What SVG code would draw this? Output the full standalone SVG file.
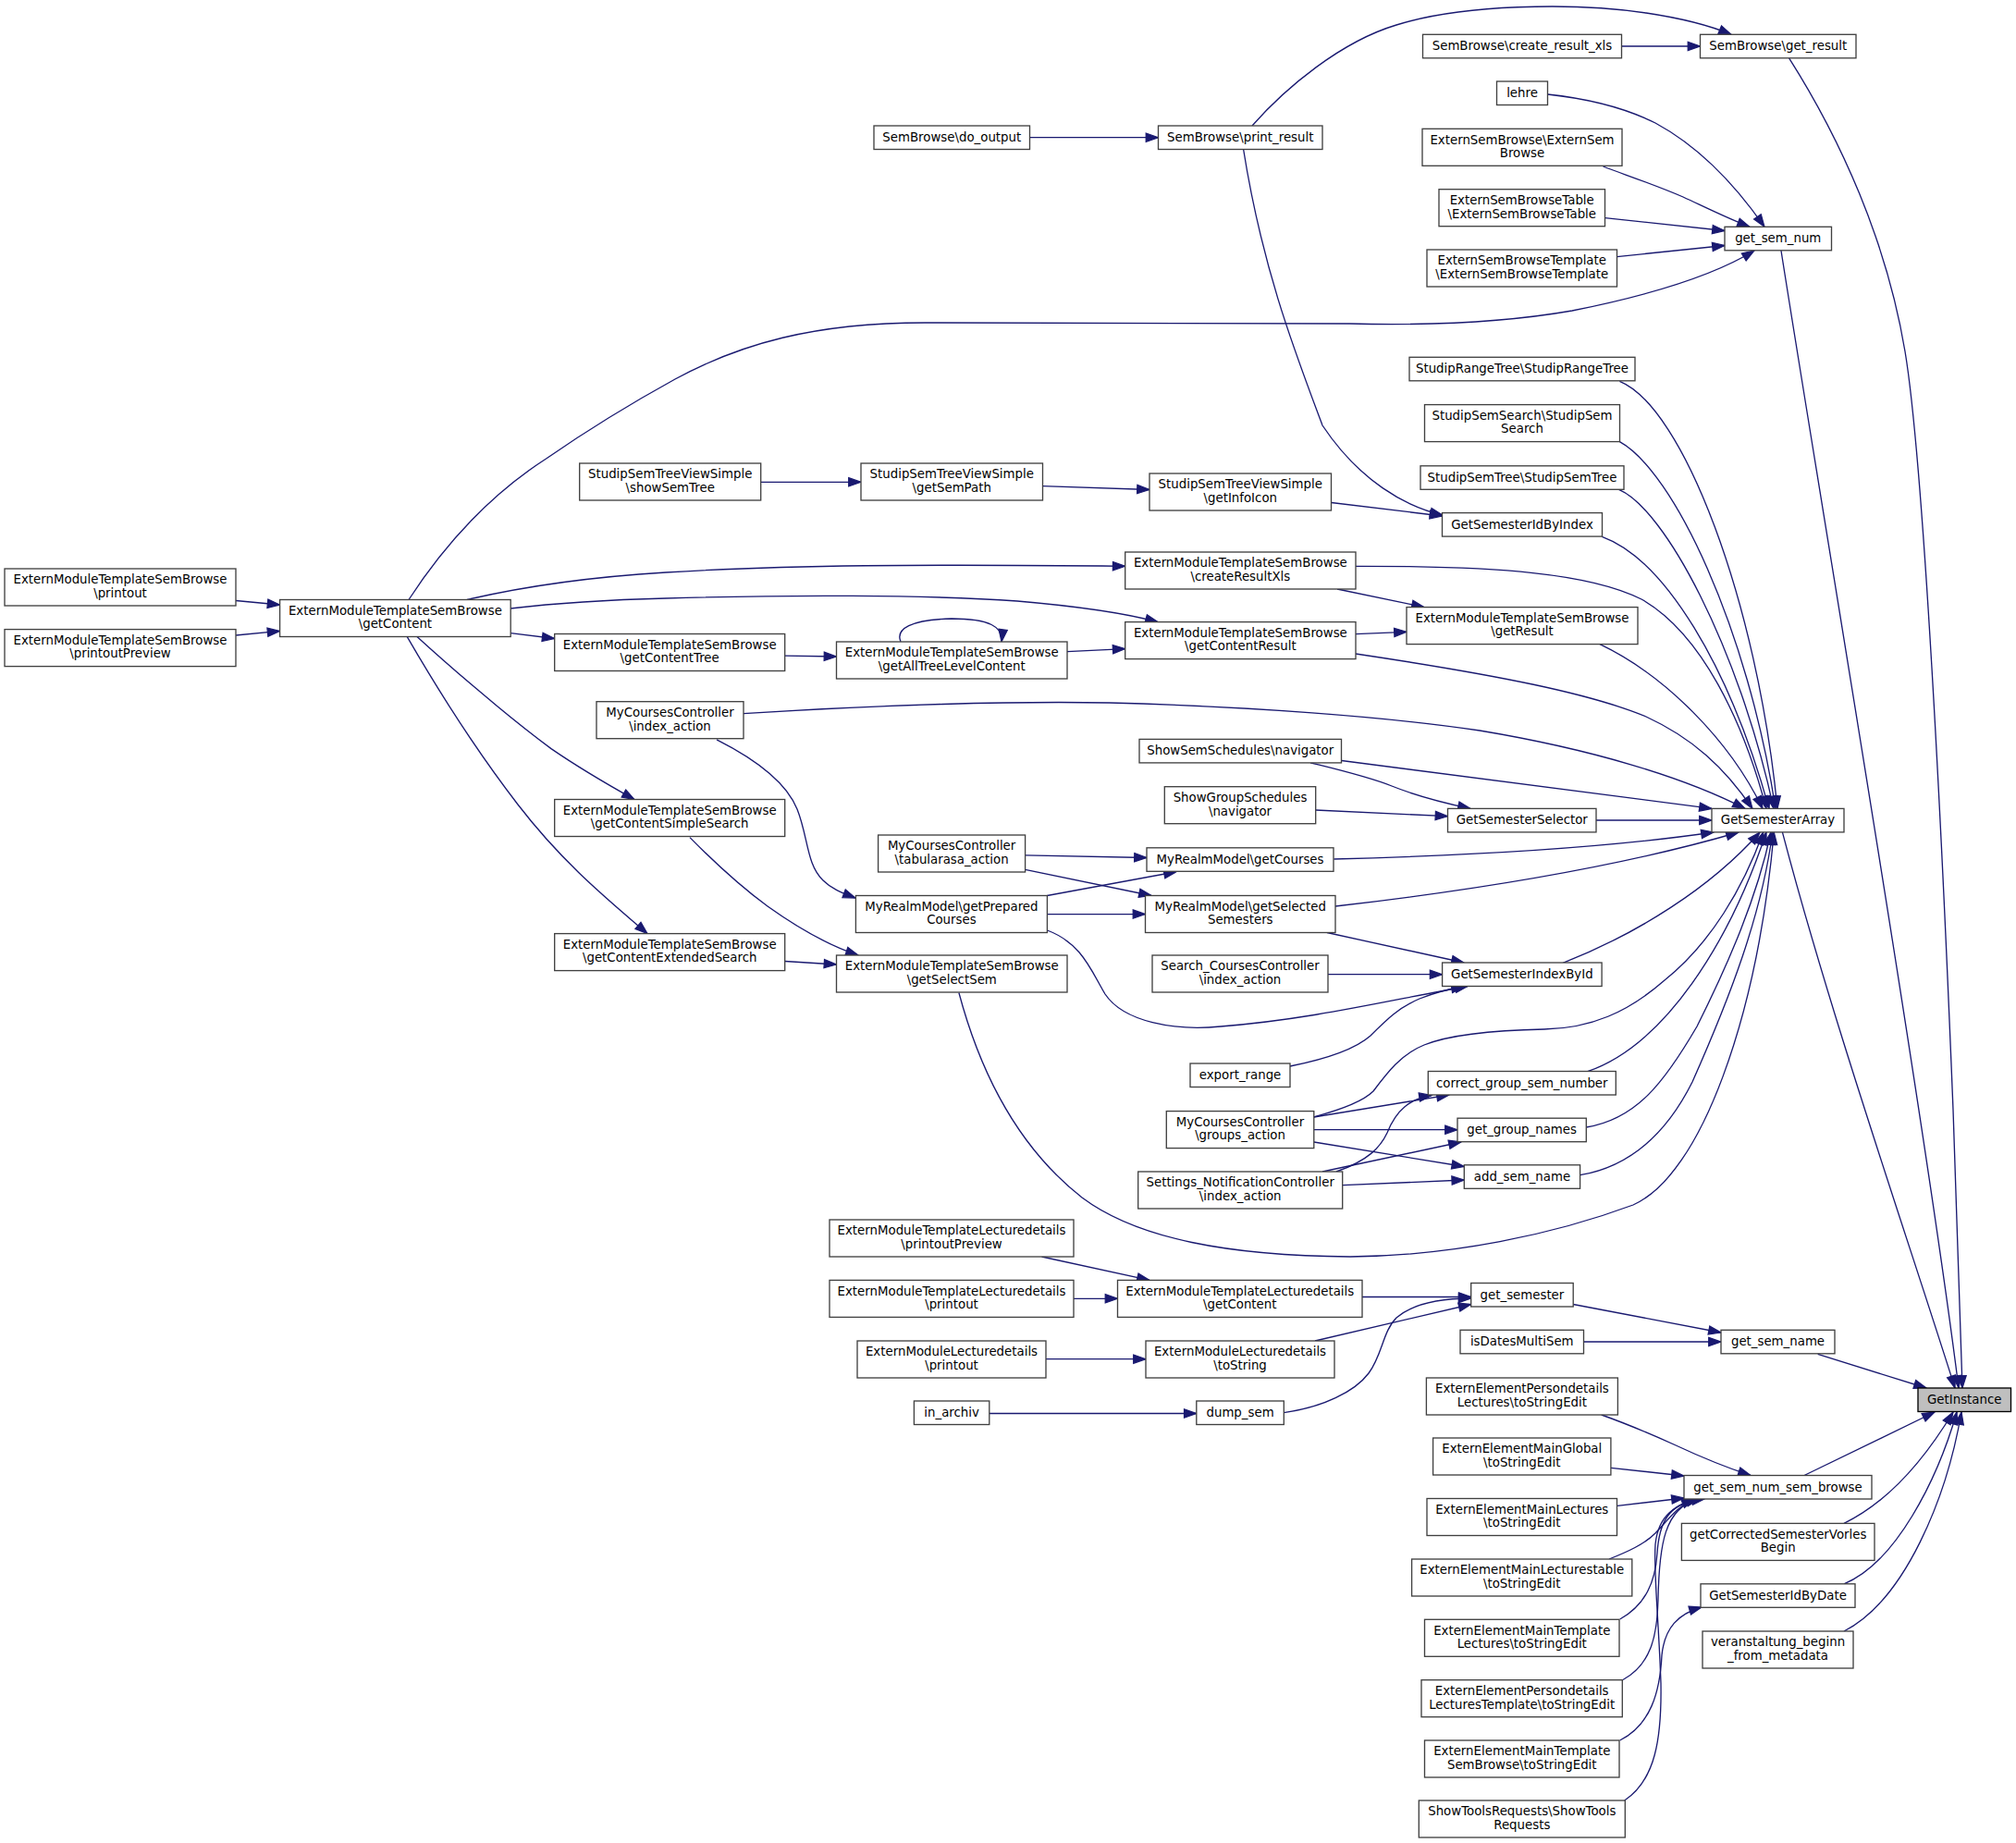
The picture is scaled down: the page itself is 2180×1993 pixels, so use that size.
<svg xmlns="http://www.w3.org/2000/svg" width="2180" height="1993" viewBox="0 0 2180 1993">
<style>
.n rect{fill:#fff;stroke:#404040;stroke-width:1.33}
.n.f rect{fill:#bfbfbf;stroke:#000}
text{font-family:"DejaVu Sans","Liberation Sans",sans-serif;font-size:13.33px;text-anchor:middle;fill:#000}
.e path{fill:none;stroke:#191970;stroke-width:1.33;marker-end:url(#a)}
</style>
<defs>
<marker id="a" markerUnits="userSpaceOnUse" markerWidth="16" markerHeight="12" refX="13.3" refY="4.67" orient="auto" overflow="visible"><path d="M0,0 L13.3,4.67 L0,9.33 z" fill="#191970" stroke="#191970" stroke-width="1.2"/></marker>
</defs>
<rect width="2180" height="1993" fill="#fff"/>
<g id="edges" class="e">
<path d="M1113.5,148.7 L1252.5,148.7"/>
<path d="M1753.5,50 L1838.5,50"/>
<path d="M1354,136 C1390,95 1450,45 1510,27 C1580,5 1700,2 1780,14 C1820,20 1850,28 1872,37.3"/>
<path d="M1344.6,161.5 C1365,290 1400,380 1430,460 C1470,520 1520,548 1560,557"/>
<path d="M1439.6,543.5 L1559.5,558"/>
<path d="M822.6,521.3 L931,521.3"/>
<path d="M1127.5,525.6 L1243,529.5"/>
<path d="M1673.5,102 C1720,107 1760,118 1790,133 C1840,160 1880,205 1908,245.3"/>
<path d="M1733.5,180 C1760,190 1790,200 1820,213 C1850,227 1870,237 1892,245.3"/>
<path d="M1735.6,235.6 L1865,249.5"/>
<path d="M1748.5,277.6 L1865,265.5"/>
<path d="M442,648.5 C480,590 530,535 591,495.7 C650,455 690,432 730,410 C800,372 880,349 1000,349 L1460,350 C1540,352 1620,350 1700,336 C1780,320 1850,300 1897,271"/>
<path d="M1934.6,62.8 C1990,150 2040,260 2060,380 C2080,500 2100,900 2112,1200 L2122,1501"/>
<path d="M1926,271 C1965,520 2080,1200 2118,1501"/>
<path d="M1927.4,899.8 C1980,1100 2060,1330 2114,1501"/>
<path d="M1965.7,1464.4 L2083,1501"/>
<path d="M1951,1595.5 L2092,1527"/>
<path d="M1994,1647.4 C2040,1625 2080,1580 2112,1527"/>
<path d="M1994,1712.8 C2050,1690 2095,1600 2116,1527"/>
<path d="M1994,1764 C2060,1730 2105,1620 2121,1527"/>
<path d="M1732.3,580.3 C1800,605 1870,720 1913,874.4"/>
<path d="M1750.5,529.4 C1800,550 1880,700 1918,874.4"/>
<path d="M1751.4,477.7 C1810,510 1890,680 1920,874.4"/>
<path d="M1751.4,412.3 C1820,440 1900,650 1922,874.4"/>
<path d="M1466,612.3 C1620,612 1720,620 1775,648 C1840,685 1885,780 1910,874.4"/>
<path d="M1446,637 L1540,656.6"/>
<path d="M1466,685.7 L1521,683.3"/>
<path d="M1730,696.7 C1800,730 1870,800 1906,874.4"/>
<path d="M1466,707 C1620,730 1720,750 1780,775 C1830,798 1865,830 1895,874.4"/>
<path d="M804,771.7 C950,762 1100,758 1200,760 C1350,764 1500,775 1600,790 C1720,810 1820,840 1887,874.4"/>
<path d="M1450.7,822.5 L1851,874.4"/>
<path d="M1417,824.8 C1450,833 1480,840 1505,850 C1535,862 1560,868 1590,874.4"/>
<path d="M1422.7,876 L1565.5,882.7"/>
<path d="M1726,887 L1851,887"/>
<path d="M1442.3,929 C1600,925 1750,915 1853,900"/>
<path d="M1444,980 C1600,962 1760,935 1880,900"/>
<path d="M1435,1008.5 L1583,1041"/>
<path d="M1436,1053.7 L1559.6,1053.7"/>
<path d="M1132.4,1006 C1170,1020 1180,1050 1195,1075 C1215,1105 1270,1115 1320,1110 C1420,1102 1500,1082 1587,1066.5"/>
<path d="M1395,1153 C1430,1146 1465,1135 1482,1120 C1500,1102 1512,1090 1535,1080 C1555,1072 1570,1069 1583,1067"/>
<path d="M1690,1041.3 C1770,1010 1850,960 1903,900"/>
<path d="M1420.8,1207.8 C1450,1200 1475,1190 1485,1180 C1500,1160 1515,1140 1540,1130 C1570,1118 1620,1114 1670,1113 C1720,1112 1760,1095 1800,1060 C1850,1020 1885,960 1906.7,900"/>
<path d="M1420.8,1208 L1567,1184"/>
<path d="M1420.8,1221.7 L1576,1221.7"/>
<path d="M1420.8,1235 L1583.3,1261.5"/>
<path d="M1445,1267 C1480,1255 1493,1240 1500,1225 C1510,1200 1525,1188 1548,1184.5"/>
<path d="M1430,1267 L1580,1235"/>
<path d="M1452,1281.7 L1583.3,1276"/>
<path d="M1716.7,1158.7 C1800,1130 1870,1020 1910,900"/>
<path d="M1715.3,1219 C1770,1210 1800,1170 1835,1110 C1870,1040 1900,970 1915,900"/>
<path d="M1708.7,1270.7 C1760,1262 1800,1230 1830,1170 C1870,1080 1905,990 1916.7,900"/>
<path d="M1036.9,1073.5 C1060,1160 1100,1240 1170,1295 C1230,1340 1330,1358 1460,1359 C1570,1358 1680,1335 1766,1303 C1840,1270 1900,1100 1918.3,900"/>
<path d="M552,658 C620,650 680,648 720,647 C850,643 1000,643 1100,650 C1170,656 1220,664 1252,672.6"/>
<path d="M505,648.5 C550,638 620,625 720,619 C850,611 1000,610 1216.7,612.3"/>
<path d="M255,649.5 L302.6,654"/>
<path d="M255,687 L302.6,682.4"/>
<path d="M552.2,684.6 L599.7,690.5"/>
<path d="M450.7,688.2 C480,715 545,772 596,809.6 C630,833 660,850 686,864.5"/>
<path d="M440,688.2 C470,740 510,805 560,870 C610,935 660,975 700,1009.6"/>
<path d="M848.8,709.2 L904.5,710"/>
<path d="M1154,704.7 L1216.7,701.6"/>
<path d="M974,694 C968,680 985,670 1029,669 C1070,669 1085,678 1083,694"/>
<path d="M775,799.8 C815,820 850,845 862,875 C874,905 872,935 890,952 C900,962 912,966 925,971"/>
<path d="M1108.6,924.8 L1240,927.5"/>
<path d="M1132.4,968.5 L1272,942.7"/>
<path d="M1108.6,940.4 L1245,968.5"/>
<path d="M1132.4,988.6 L1238.5,988.6"/>
<path d="M746,905.6 C770,930 800,958 830,980 C865,1005 895,1022 928,1033"/>
<path d="M848.8,1039.5 L904.5,1043"/>
<path d="M1126.5,1359 L1243,1384.4"/>
<path d="M1161,1404.3 L1208.5,1404.3"/>
<path d="M1131,1469.7 L1239,1469.7"/>
<path d="M1069.8,1528.5 L1293.8,1528.5"/>
<path d="M1473,1402.5 L1590.7,1402.5"/>
<path d="M1422,1450 L1590.7,1410.5"/>
<path d="M1388.3,1527.6 C1430,1522 1465,1505 1480,1485 C1495,1465 1495,1440 1510,1425 C1530,1408 1560,1404 1590.7,1404"/>
<path d="M1701.2,1410.5 L1861,1441"/>
<path d="M1712.7,1451 L1861,1451"/>
<path d="M1731.7,1530 C1760,1540 1790,1553 1810,1562 C1840,1576 1870,1588 1893,1595.5"/>
<path d="M1742,1587.3 L1821,1596"/>
<path d="M1749,1628.3 L1821,1620"/>
<path d="M1740,1686 C1760,1678 1778,1670 1790,1658 C1805,1642 1815,1628 1832,1621"/>
<path d="M1751.7,1751 C1780,1735 1790,1710 1792,1680 C1794,1645 1805,1628 1834,1621"/>
<path d="M1755,1816.5 C1785,1800 1792,1770 1793,1730 C1794,1670 1800,1630 1837,1621"/>
<path d="M1751.7,1882 C1785,1865 1795,1830 1797,1790 C1800,1760 1815,1745 1840,1738"/>
<path d="M1756.7,1947 C1790,1925 1797,1880 1796,1820 C1793,1740 1788,1700 1790,1670 C1793,1640 1810,1625 1843,1621"/>
</g>
<g id="n1" class="n"><rect x="945" y="136" width="168.5" height="25.5"/><text x="1029.25" y="153">SemBrowse\do_output</text></g>
<g id="n2" class="n"><rect x="1252.5" y="136" width="177.5" height="25.5"/><text x="1341.25" y="153">SemBrowse\print_result</text></g>
<g id="n3" class="n"><rect x="1538.5" y="37.3" width="215" height="25.5"/><text x="1646" y="54.3">SemBrowse\create_result_xls</text></g>
<g id="n4" class="n"><rect x="1838.5" y="37.3" width="168.5" height="25.5"/><text x="1922.75" y="54.3">SemBrowse\get_result</text></g>
<g id="n5" class="n"><rect x="1618.5" y="88" width="55" height="25.5"/><text x="1646" y="105">lehre</text></g>
<g id="n6" class="n"><rect x="1538" y="139.3" width="216" height="40"/><text x="1646" y="155.6">ExternSemBrowse\ExternSem</text><text x="1646" y="170.1">Browse</text></g>
<g id="n7" class="n"><rect x="1556" y="204.7" width="179.5" height="40"/><text x="1645.75" y="221">ExternSemBrowseTable</text><text x="1645.75" y="235.5">\ExternSemBrowseTable</text></g>
<g id="n8" class="n"><rect x="1865" y="245.3" width="115.5" height="25.5"/><text x="1922.75" y="262.3">get_sem_num</text></g>
<g id="n9" class="n"><rect x="1543" y="270" width="205.5" height="40"/><text x="1645.75" y="286.3">ExternSemBrowseTemplate</text><text x="1645.75" y="300.8">\ExternSemBrowseTemplate</text></g>
<g id="n10" class="n"><rect x="1524" y="386.3" width="244" height="25.5"/><text x="1646" y="403.3">StudipRangeTree\StudipRangeTree</text></g>
<g id="n11" class="n"><rect x="1540.5" y="437.6" width="211" height="40"/><text x="1646" y="453.9">StudipSemSearch\StudipSem</text><text x="1646" y="468.4">Search</text></g>
<g id="n12" class="n"><rect x="1536" y="503.8" width="220" height="25.5"/><text x="1646" y="520.8">StudipSemTree\StudipSemTree</text></g>
<g id="n13" class="n"><rect x="1559.5" y="554.6" width="173" height="25.5"/><text x="1646" y="571.6">GetSemesterIdByIndex</text></g>
<g id="n14" class="n"><rect x="626.7" y="501" width="196" height="40"/><text x="724.7" y="517.3">StudipSemTreeViewSimple</text><text x="724.7" y="531.8">\showSemTree</text></g>
<g id="n15" class="n"><rect x="931" y="501" width="196.5" height="40"/><text x="1029.25" y="517.3">StudipSemTreeViewSimple</text><text x="1029.25" y="531.8">\getSemPath</text></g>
<g id="n16" class="n"><rect x="1243" y="512" width="196.5" height="40"/><text x="1341.25" y="528.3">StudipSemTreeViewSimple</text><text x="1341.25" y="542.8">\getInfoIcon</text></g>
<g id="n17" class="n"><rect x="5" y="615" width="250" height="40"/><text x="130" y="631.3">ExternModuleTemplateSemBrowse</text><text x="130" y="645.8">\printout</text></g>
<g id="n18" class="n"><rect x="5" y="680.6" width="250" height="40"/><text x="130" y="696.9">ExternModuleTemplateSemBrowse</text><text x="130" y="711.4">\printoutPreview</text></g>
<g id="n19" class="n"><rect x="302.6" y="648.5" width="249.6" height="40"/><text x="427.4" y="664.8">ExternModuleTemplateSemBrowse</text><text x="427.4" y="679.3">\getContent</text></g>
<g id="n20" class="n"><rect x="1216.7" y="597" width="249.3" height="40"/><text x="1341.35" y="613.3">ExternModuleTemplateSemBrowse</text><text x="1341.35" y="627.8">\createResultXls</text></g>
<g id="n21" class="n"><rect x="599.7" y="685.5" width="249" height="40"/><text x="724.2" y="701.8">ExternModuleTemplateSemBrowse</text><text x="724.2" y="716.3">\getContentTree</text></g>
<g id="n22" class="n"><rect x="904.5" y="694" width="249.5" height="40"/><text x="1029.25" y="710.3">ExternModuleTemplateSemBrowse</text><text x="1029.25" y="724.8">\getAllTreeLevelContent</text></g>
<g id="n23" class="n"><rect x="1216.7" y="672.6" width="249.3" height="40"/><text x="1341.35" y="688.9">ExternModuleTemplateSemBrowse</text><text x="1341.35" y="703.4">\getContentResult</text></g>
<g id="n24" class="n"><rect x="1521" y="656.6" width="250" height="40"/><text x="1646" y="672.9">ExternModuleTemplateSemBrowse</text><text x="1646" y="687.4">\getResult</text></g>
<g id="n25" class="n"><rect x="645" y="758.7" width="159" height="40"/><text x="724.5" y="775">MyCoursesController</text><text x="724.5" y="789.5">\index_action</text></g>
<g id="n26" class="n"><rect x="1232" y="799.4" width="218.5" height="25.5"/><text x="1341.25" y="816.4">ShowSemSchedules\navigator</text></g>
<g id="n27" class="n"><rect x="1259.3" y="850.7" width="163.4" height="40"/><text x="1341" y="867">ShowGroupSchedules</text><text x="1341" y="881.5">\navigator</text></g>
<g id="n28" class="n"><rect x="1565.5" y="874.4" width="160.5" height="25.5"/><text x="1645.75" y="891.4">GetSemesterSelector</text></g>
<g id="n29" class="n"><rect x="1851" y="874.4" width="143" height="25.5"/><text x="1922.5" y="891.4">GetSemesterArray</text></g>
<g id="n30" class="n"><rect x="599.7" y="864.5" width="249" height="40"/><text x="724.2" y="880.8">ExternModuleTemplateSemBrowse</text><text x="724.2" y="895.3">\getContentSimpleSearch</text></g>
<g id="n31" class="n"><rect x="949.6" y="903" width="159" height="40"/><text x="1029.1" y="919.3">MyCoursesController</text><text x="1029.1" y="933.8">\tabularasa_action</text></g>
<g id="n32" class="n"><rect x="1240" y="916.8" width="202" height="25.5"/><text x="1341" y="933.8">MyRealmModel\getCourses</text></g>
<g id="n33" class="n"><rect x="925.4" y="968.5" width="207" height="40"/><text x="1028.9" y="984.8">MyRealmModel\getPrepared</text><text x="1028.9" y="999.3">Courses</text></g>
<g id="n34" class="n"><rect x="1238.5" y="968.5" width="205.5" height="40"/><text x="1341.25" y="984.8">MyRealmModel\getSelected</text><text x="1341.25" y="999.3">Semesters</text></g>
<g id="n35" class="n"><rect x="599.7" y="1009.6" width="249" height="40"/><text x="724.2" y="1025.9">ExternModuleTemplateSemBrowse</text><text x="724.2" y="1040.4">\getContentExtendedSearch</text></g>
<g id="n36" class="n"><rect x="904.5" y="1033" width="249.5" height="40"/><text x="1029.25" y="1049.3">ExternModuleTemplateSemBrowse</text><text x="1029.25" y="1063.8">\getSelectSem</text></g>
<g id="n37" class="n"><rect x="1246" y="1033" width="190" height="40"/><text x="1341" y="1049.3">Search_CoursesController</text><text x="1341" y="1063.8">\index_action</text></g>
<g id="n38" class="n"><rect x="1559.6" y="1041" width="172.5" height="25.5"/><text x="1645.85" y="1058">GetSemesterIndexById</text></g>
<g id="n39" class="n"><rect x="1287" y="1150" width="108" height="25.5"/><text x="1341" y="1167">export_range</text></g>
<g id="n40" class="n"><rect x="1544.3" y="1158.5" width="203" height="25.5"/><text x="1645.8" y="1175.5">correct_group_sem_number</text></g>
<g id="n41" class="n"><rect x="1261.3" y="1201.6" width="159.5" height="40"/><text x="1341.05" y="1217.9">MyCoursesController</text><text x="1341.05" y="1232.4">\groups_action</text></g>
<g id="n42" class="n"><rect x="1576" y="1209.2" width="139.3" height="25.5"/><text x="1645.65" y="1226.2">get_group_names</text></g>
<g id="n43" class="n"><rect x="1583.3" y="1259.8" width="125.3" height="25.5"/><text x="1645.95" y="1276.8">add_sem_name</text></g>
<g id="n44" class="n"><rect x="1230.7" y="1267" width="221" height="40"/><text x="1341.2" y="1283.3">Settings_NotificationController</text><text x="1341.2" y="1297.8">\index_action</text></g>
<g id="n45" class="n"><rect x="897" y="1319" width="264" height="40"/><text x="1029" y="1335.3">ExternModuleTemplateLecturedetails</text><text x="1029" y="1349.8">\printoutPreview</text></g>
<g id="n46" class="n"><rect x="897" y="1384.4" width="264" height="40"/><text x="1029" y="1400.7">ExternModuleTemplateLecturedetails</text><text x="1029" y="1415.2">\printout</text></g>
<g id="n47" class="n"><rect x="1208.5" y="1384.4" width="264.5" height="40"/><text x="1340.75" y="1400.7">ExternModuleTemplateLecturedetails</text><text x="1340.75" y="1415.2">\getContent</text></g>
<g id="n48" class="n"><rect x="1590.7" y="1387.5" width="110.5" height="25.5"/><text x="1645.95" y="1404.5">get_semester</text></g>
<g id="n49" class="n"><rect x="927" y="1450" width="204" height="40"/><text x="1029" y="1466.3">ExternModuleLecturedetails</text><text x="1029" y="1480.8">\printout</text></g>
<g id="n50" class="n"><rect x="1239" y="1450" width="204" height="40"/><text x="1341" y="1466.3">ExternModuleLecturedetails</text><text x="1341" y="1480.8">\toString</text></g>
<g id="n51" class="n"><rect x="1579" y="1438.3" width="133.5" height="25.5"/><text x="1645.75" y="1455.3">isDatesMultiSem</text></g>
<g id="n52" class="n"><rect x="1861" y="1438.3" width="123" height="25.5"/><text x="1922.5" y="1455.3">get_sem_name</text></g>
<g id="n53" class="n"><rect x="988.4" y="1515" width="81.4" height="25.5"/><text x="1029.1" y="1532">in_archiv</text></g>
<g id="n54" class="n"><rect x="1293.8" y="1515" width="94.5" height="25.5"/><text x="1341.05" y="1532">dump_sem</text></g>
<g id="n55" class="n f"><rect x="2074" y="1501" width="100.5" height="25.5"/><text x="2124.25" y="1518">GetInstance</text></g>
<g id="n56" class="n"><rect x="1542.4" y="1490" width="207" height="40"/><text x="1645.9" y="1506.3">ExternElementPersondetails</text><text x="1645.9" y="1520.8">Lectures\toStringEdit</text></g>
<g id="n57" class="n"><rect x="1549.6" y="1555" width="192.3" height="40"/><text x="1645.75" y="1571.3">ExternElementMainGlobal</text><text x="1645.75" y="1585.8">\toStringEdit</text></g>
<g id="n58" class="n"><rect x="1821" y="1595.5" width="203" height="25.5"/><text x="1922.5" y="1612.5">get_sem_num_sem_browse</text></g>
<g id="n59" class="n"><rect x="1543" y="1620.5" width="205.5" height="40"/><text x="1645.75" y="1636.8">ExternElementMainLectures</text><text x="1645.75" y="1651.3">\toStringEdit</text></g>
<g id="n60" class="n"><rect x="1818.4" y="1647.4" width="208.6" height="40"/><text x="1922.7" y="1663.7">getCorrectedSemesterVorles</text><text x="1922.7" y="1678.2">Begin</text></g>
<g id="n61" class="n"><rect x="1526.6" y="1686" width="238.2" height="40"/><text x="1645.7" y="1702.3">ExternElementMainLecturestable</text><text x="1645.7" y="1716.8">\toStringEdit</text></g>
<g id="n62" class="n"><rect x="1839" y="1712.8" width="167" height="25.5"/><text x="1922.5" y="1729.8">GetSemesterIdByDate</text></g>
<g id="n63" class="n"><rect x="1540.5" y="1751.3" width="210.5" height="40"/><text x="1645.75" y="1767.6">ExternElementMainTemplate</text><text x="1645.75" y="1782.1">Lectures\toStringEdit</text></g>
<g id="n64" class="n"><rect x="1841" y="1764" width="163" height="40"/><text x="1922.5" y="1780.3">veranstaltung_beginn</text><text x="1922.5" y="1794.8">_from_metadata</text></g>
<g id="n65" class="n"><rect x="1537" y="1816.7" width="217.3" height="40"/><text x="1645.65" y="1833">ExternElementPersondetails</text><text x="1645.65" y="1847.5">LecturesTemplate\toStringEdit</text></g>
<g id="n66" class="n"><rect x="1540.5" y="1882" width="210.5" height="40"/><text x="1645.75" y="1898.3">ExternElementMainTemplate</text><text x="1645.75" y="1912.8">SemBrowse\toStringEdit</text></g>
<g id="n67" class="n"><rect x="1534.3" y="1947" width="223" height="40"/><text x="1645.8" y="1963.3">ShowToolsRequests\ShowTools</text><text x="1645.8" y="1977.8">Requests</text></g>
</svg>
